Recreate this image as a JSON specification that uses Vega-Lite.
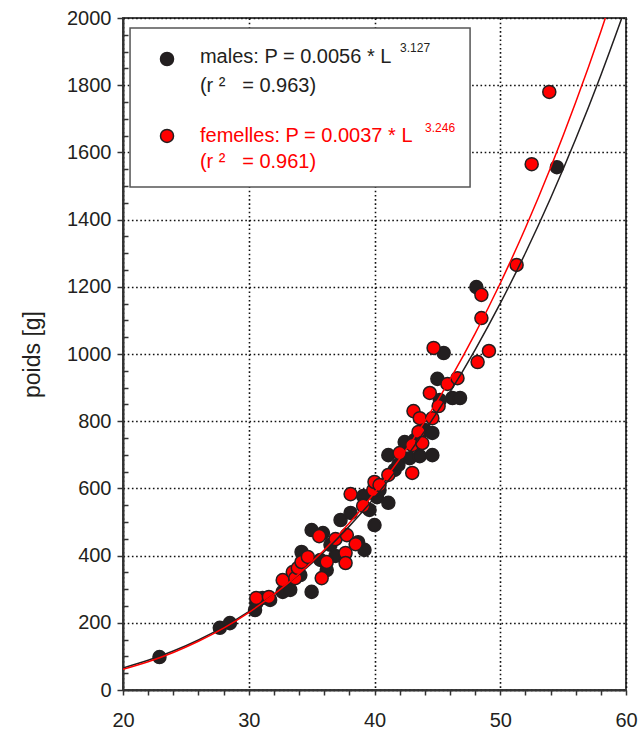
{
  "$schema": "https://vega.github.io/schema/vega-lite/v6.json",
  "width": 503,
  "height": 672,
  "autosize": {"type": "none"},
  "padding": {"left": 123, "top": 18, "right": 15, "bottom": 48},
  "background": "white",
  "config": {
    "view": {"stroke": "#444444", "strokeWidth": 2},
    "font": "Liberation Sans",
    "axis": {
      "domainColor": "#333333",
      "domainWidth": 2,
      "tickColor": "#333333",
      "tickWidth": 1.5,
      "gridColor": "#111111",
      "gridWidth": 1.6,
      "gridDash": [1.6, 2.6],
      "labelFont": "Liberation Sans",
      "labelFontSize": 20,
      "labelColor": "#231f20",
      "titleFont": "Liberation Sans",
      "titleFontSize": 23,
      "titleFontWeight": "normal",
      "titleColor": "#231f20",
      "labelFlush": false,
      "labelOverlap": false
    }
  },
  "datasets": {
    "points": [
      {"L": 22.9, "P": 98, "sexe": "males"},
      {"L": 27.7, "P": 185, "sexe": "males"},
      {"L": 28.5, "P": 199, "sexe": "males"},
      {"L": 30.5, "P": 238, "sexe": "males"},
      {"L": 30.6, "P": 259, "sexe": "males"},
      {"L": 31.1, "P": 274, "sexe": "males"},
      {"L": 31.7, "P": 268, "sexe": "males"},
      {"L": 32.7, "P": 292, "sexe": "males"},
      {"L": 33.3, "P": 298, "sexe": "males"},
      {"L": 34.1, "P": 342, "sexe": "males"},
      {"L": 34.2, "P": 411, "sexe": "males"},
      {"L": 35.0, "P": 292, "sexe": "males"},
      {"L": 35.0, "P": 476, "sexe": "males"},
      {"L": 35.7, "P": 387, "sexe": "males"},
      {"L": 35.9, "P": 467, "sexe": "males"},
      {"L": 36.2, "P": 357, "sexe": "males"},
      {"L": 36.5, "P": 432, "sexe": "males"},
      {"L": 36.9, "P": 399, "sexe": "males"},
      {"L": 37.3, "P": 506, "sexe": "males"},
      {"L": 38.1, "P": 527, "sexe": "males"},
      {"L": 38.7, "P": 440, "sexe": "males"},
      {"L": 39.2, "P": 417, "sexe": "males"},
      {"L": 39.1, "P": 577, "sexe": "males"},
      {"L": 39.6, "P": 536, "sexe": "males"},
      {"L": 40.0, "P": 491, "sexe": "males"},
      {"L": 40.2, "P": 574, "sexe": "males"},
      {"L": 40.4, "P": 595, "sexe": "males"},
      {"L": 41.1, "P": 557, "sexe": "males"},
      {"L": 41.1, "P": 699, "sexe": "males"},
      {"L": 41.6, "P": 655, "sexe": "males"},
      {"L": 41.9, "P": 670, "sexe": "males"},
      {"L": 42.4, "P": 738, "sexe": "males"},
      {"L": 42.8, "P": 690, "sexe": "males"},
      {"L": 43.2, "P": 744, "sexe": "males"},
      {"L": 43.6, "P": 696, "sexe": "males"},
      {"L": 44.0, "P": 774, "sexe": "males"},
      {"L": 44.6, "P": 699, "sexe": "males"},
      {"L": 44.6, "P": 765, "sexe": "males"},
      {"L": 45.0, "P": 926, "sexe": "males"},
      {"L": 45.2, "P": 863, "sexe": "males"},
      {"L": 45.5, "P": 1003, "sexe": "males"},
      {"L": 46.2, "P": 869, "sexe": "males"},
      {"L": 46.8, "P": 869, "sexe": "males"},
      {"L": 48.1, "P": 1199, "sexe": "males"},
      {"L": 54.5, "P": 1556, "sexe": "males"},
      {"L": 30.6, "P": 274, "sexe": "femelles"},
      {"L": 31.6, "P": 277, "sexe": "femelles"},
      {"L": 32.7, "P": 327, "sexe": "femelles"},
      {"L": 33.5, "P": 351, "sexe": "femelles"},
      {"L": 33.7, "P": 333, "sexe": "femelles"},
      {"L": 33.9, "P": 363, "sexe": "femelles"},
      {"L": 34.2, "P": 381, "sexe": "femelles"},
      {"L": 34.7, "P": 396, "sexe": "femelles"},
      {"L": 35.6, "P": 458, "sexe": "femelles"},
      {"L": 35.8, "P": 333, "sexe": "femelles"},
      {"L": 36.2, "P": 381, "sexe": "femelles"},
      {"L": 36.9, "P": 449, "sexe": "femelles"},
      {"L": 37.8, "P": 461, "sexe": "femelles"},
      {"L": 37.7, "P": 408, "sexe": "femelles"},
      {"L": 37.7, "P": 378, "sexe": "femelles"},
      {"L": 38.5, "P": 434, "sexe": "femelles"},
      {"L": 38.1, "P": 583, "sexe": "femelles"},
      {"L": 39.1, "P": 548, "sexe": "femelles"},
      {"L": 39.9, "P": 595, "sexe": "femelles"},
      {"L": 40.0, "P": 619, "sexe": "femelles"},
      {"L": 40.4, "P": 610, "sexe": "femelles"},
      {"L": 41.1, "P": 640, "sexe": "femelles"},
      {"L": 42.0, "P": 705, "sexe": "femelles"},
      {"L": 43.0, "P": 646, "sexe": "femelles"},
      {"L": 43.0, "P": 729, "sexe": "femelles"},
      {"L": 43.5, "P": 768, "sexe": "femelles"},
      {"L": 43.8, "P": 735, "sexe": "femelles"},
      {"L": 43.1, "P": 830, "sexe": "femelles"},
      {"L": 43.6, "P": 809, "sexe": "femelles"},
      {"L": 44.6, "P": 809, "sexe": "femelles"},
      {"L": 44.4, "P": 884, "sexe": "femelles"},
      {"L": 45.1, "P": 845, "sexe": "femelles"},
      {"L": 45.8, "P": 911, "sexe": "femelles"},
      {"L": 46.6, "P": 928, "sexe": "femelles"},
      {"L": 44.7, "P": 1018, "sexe": "femelles"},
      {"L": 48.2, "P": 976, "sexe": "femelles"},
      {"L": 49.1, "P": 1009, "sexe": "femelles"},
      {"L": 48.5, "P": 1107, "sexe": "femelles"},
      {"L": 48.5, "P": 1176, "sexe": "femelles"},
      {"L": 51.3, "P": 1265, "sexe": "femelles"},
      {"L": 52.5, "P": 1565, "sexe": "femelles"},
      {"L": 53.9, "P": 1780, "sexe": "femelles"}
    ],
    "curves": [
      {"L": 20, "P": 65.6, "sexe": "males"},
      {"L": 22, "P": 88.3, "sexe": "males"},
      {"L": 24, "P": 115.9, "sexe": "males"},
      {"L": 26, "P": 148.9, "sexe": "males"},
      {"L": 28, "P": 187.7, "sexe": "males"},
      {"L": 30, "P": 232.9, "sexe": "males"},
      {"L": 32, "P": 285.0, "sexe": "males"},
      {"L": 34, "P": 344.5, "sexe": "males"},
      {"L": 36, "P": 411.9, "sexe": "males"},
      {"L": 38, "P": 487.7, "sexe": "males"},
      {"L": 40, "P": 572.6, "sexe": "males"},
      {"L": 42, "P": 666.9, "sexe": "males"},
      {"L": 44, "P": 771.4, "sexe": "males"},
      {"L": 46, "P": 886.4, "sexe": "males"},
      {"L": 48, "P": 1012.6, "sexe": "males"},
      {"L": 50, "P": 1150.4, "sexe": "males"},
      {"L": 52, "P": 1300.5, "sexe": "males"},
      {"L": 54, "P": 1463.4, "sexe": "males"},
      {"L": 56, "P": 1639.7, "sexe": "males"},
      {"L": 58, "P": 1829.9, "sexe": "males"},
      {"L": 60, "P": 2034.5, "sexe": "males"},
      {"L": 20, "P": 61.9, "sexe": "femelles"},
      {"L": 22, "P": 84.3, "sexe": "femelles"},
      {"L": 24, "P": 111.8, "sexe": "femelles"},
      {"L": 26, "P": 145.0, "sexe": "femelles"},
      {"L": 28, "P": 184.4, "sexe": "femelles"},
      {"L": 30, "P": 230.6, "sexe": "femelles"},
      {"L": 32, "P": 284.4, "sexe": "femelles"},
      {"L": 34, "P": 346.3, "sexe": "femelles"},
      {"L": 36, "P": 416.8, "sexe": "femelles"},
      {"L": 38, "P": 496.8, "sexe": "femelles"},
      {"L": 40, "P": 586.8, "sexe": "femelles"},
      {"L": 42, "P": 687.5, "sexe": "femelles"},
      {"L": 44, "P": 799.6, "sexe": "femelles"},
      {"L": 46, "P": 923.7, "sexe": "femelles"},
      {"L": 48, "P": 1060.5, "sexe": "femelles"},
      {"L": 50, "P": 1210.7, "sexe": "femelles"},
      {"L": 52, "P": 1375.1, "sexe": "femelles"},
      {"L": 54, "P": 1554.3, "sexe": "femelles"},
      {"L": 56, "P": 1749.1, "sexe": "femelles"},
      {"L": 58, "P": 1960.1, "sexe": "femelles"},
      {"L": 60, "P": 2188.1, "sexe": "femelles"}
    ]
  },
  "layer": [
    {
      "data": {"name": "points"},
      "mark": {"type": "point", "shape": "circle", "filled": true, "size": 170, "opacity": 1, "stroke": "#231f20", "strokeWidth": 1.5},
      "encoding": {
        "x": {
          "field": "L", "type": "quantitative",
          "scale": {"domain": [20, 60], "nice": false, "zero": false},
          "axis": {
            "title": null,
            "format": "d",
            "values": [20,22,24,26,28,30,32,34,36,38,40,42,44,46,48,50,52,54,56,58,60],
            "tickCount": 100,
            "labelExpr": "datum.value % 10 === 0 ? datum.label : ''",
            "labelOverlap": false,
            "labelFlush": false,
            "gridOpacity": {"condition": {"test": "datum.value % 10 !== 0", "value": 0}, "value": 1},
            "tickSize": 5,
            "labelPadding": 15
          }
        },
        "y": {
          "field": "P", "type": "quantitative",
          "scale": {"domain": [0, 2000], "nice": false},
          "axis": {
            "title": "poids [g]",
            "titleFont": "Liberation Sans",
            "titleFontSize": 23,
            "titleFontWeight": "normal",
            "format": "d",
            "values": [0,50,100,150,200,250,300,350,400,450,500,550,600,650,700,750,800,850,900,950,1000,1050,1100,1150,1200,1250,1300,1350,1400,1450,1500,1550,1600,1650,1700,1750,1800,1850,1900,1950,2000],
            "tickCount": 100,
            "labelExpr": "datum.value % 200 === 0 ? datum.label : ''",
            "labelOverlap": false,
            "labelFlush": false,
            "gridOpacity": {"condition": {"test": "datum.value % 200 !== 0", "value": 0}, "value": 1},
            "tickSize": {"condition": {"test": "datum.value % 200 !== 0", "value": -5}, "value": 6},
            "labelPadding": 6,
            "titleX": -91,
            "titleY": 336,
            "titleAngle": -90,
            "titleAlign": "center",
            "titleBaseline": "middle"
          }
        },
        "color": {
          "field": "sexe", "type": "nominal",
          "scale": {"domain": ["males", "femelles"], "range": ["#231f20", "#ff0000"]},
          "legend": null
        }
      }
    },
    {
      "data": {"name": "curves"},
      "mark": {"type": "line", "strokeWidth": 1.5, "interpolate": "monotone", "clip": true},
      "encoding": {
        "x": {"field": "L", "type": "quantitative"},
        "y": {"field": "P", "type": "quantitative"},
        "color": {"field": "sexe", "type": "nominal", "legend": null}
      }
    },
    {
      "data": {"values": [{}]},
      "mark": {"type": "rect", "fill": "white", "stroke": "#555555", "strokeWidth": 1.5},
      "encoding": {
        "x": {"datum": 20.56, "type": "quantitative"},
        "x2": {"datum": 47.6},
        "y": {"datum": 1970, "type": "quantitative"},
        "y2": {"datum": 1497}
      }
    },
    {
      "data": {"values": [{}]},
      "mark": {"type": "point", "shape": "circle", "filled": true, "size": 170, "opacity": 1, "fill": "#231f20", "stroke": "#231f20", "strokeWidth": 1.5},
      "encoding": {
        "x": {"datum": 23.5, "type": "quantitative"},
        "y": {"datum": 1878, "type": "quantitative"}
      }
    },
    {
      "data": {"values": [{}]},
      "mark": {"type": "point", "shape": "circle", "filled": true, "size": 170, "opacity": 1, "fill": "#ff0000", "stroke": "#231f20", "strokeWidth": 1.5},
      "encoding": {
        "x": {"datum": 23.5, "type": "quantitative"},
        "y": {"datum": 1649, "type": "quantitative"}
      }
    },
    {
      "data": {"values": [{}]},
      "mark": {"type": "text", "text": "males: P = 0.0056 * L", "align": "left", "baseline": "alphabetic", "font": "Liberation Sans", "fontSize": 20, "fill": "#231f20"},
      "encoding": {
        "x": {"datum": 26.12, "type": "quantitative"},
        "y": {"datum": 1866, "type": "quantitative"}
      }
    },
    {
      "data": {"values": [{}]},
      "mark": {"type": "text", "text": "3.127", "align": "left", "baseline": "alphabetic", "font": "Liberation Sans", "fontSize": 12, "fill": "#231f20"},
      "encoding": {
        "x": {"datum": 42.03, "type": "quantitative"},
        "y": {"datum": 1899, "type": "quantitative"}
      }
    },
    {
      "data": {"values": [{}]},
      "mark": {"type": "text", "text": "(r ²\u00a0\u00a0\u00a0= 0.963)", "align": "left", "baseline": "alphabetic", "font": "Liberation Sans", "fontSize": 20, "fill": "#231f20"},
      "encoding": {
        "x": {"datum": 26.12, "type": "quantitative"},
        "y": {"datum": 1780, "type": "quantitative"}
      }
    },
    {
      "data": {"values": [{}]},
      "mark": {"type": "text", "text": "femelles: P = 0.0037 * L", "align": "left", "baseline": "alphabetic", "font": "Liberation Sans", "fontSize": 20, "fill": "#ff0000"},
      "encoding": {
        "x": {"datum": 26.12, "type": "quantitative"},
        "y": {"datum": 1631, "type": "quantitative"}
      }
    },
    {
      "data": {"values": [{}]},
      "mark": {"type": "text", "text": "3.246", "align": "left", "baseline": "alphabetic", "font": "Liberation Sans", "fontSize": 12, "fill": "#ff0000"},
      "encoding": {
        "x": {"datum": 44.02, "type": "quantitative"},
        "y": {"datum": 1661, "type": "quantitative"}
      }
    },
    {
      "data": {"values": [{}]},
      "mark": {"type": "text", "text": "(r ²\u00a0\u00a0\u00a0= 0.961)", "align": "left", "baseline": "alphabetic", "font": "Liberation Sans", "fontSize": 20, "fill": "#ff0000"},
      "encoding": {
        "x": {"datum": 26.12, "type": "quantitative"},
        "y": {"datum": 1553, "type": "quantitative"}
      }
    }
  ]
}
